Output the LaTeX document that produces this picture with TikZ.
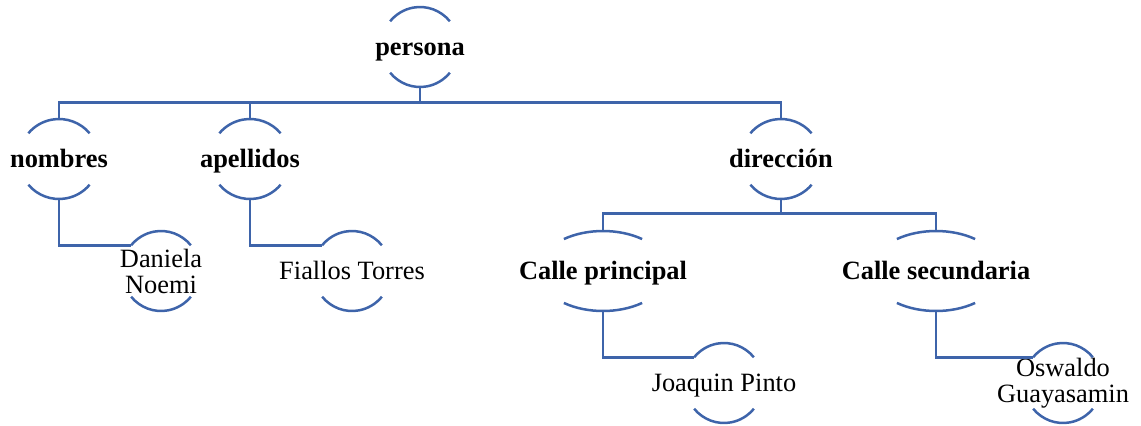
\documentclass[tikz,border=0pt]{standalone}
\usepackage{fontspec}
\setmainfont{Liberation Serif}
\definecolor{archblue}{RGB}{62,100,170}

% top and bottom arc of a node, plus the point where its connector comes in
\newcommand{\archs}[3]{%
  \draw[arcline] ([shift={(#3:#2 and 40)}]#1.center)
    arc[start angle=#3, end angle={180-#3}, x radius=#2, y radius=40];
  \draw[arcline] ([shift={(180+#3:#2 and 40)}]#1.center)
    arc[start angle={180+#3}, end angle={360-#3}, x radius=#2, y radius=40];
  \coordinate (#1-in) at ([shift={(180-#3:#2 and 40)}]#1.center);
}

\begin{document}
\begin{tikzpicture}[x=0.5pt,y=0.5pt,
    font=\fontsize{13.2}{13}\selectfont,
    arcline/.style={draw=archblue, line width=1.25pt},
    link/.style={draw=archblue, line width=1.25pt},
    leaf/.style={inner sep=0pt, minimum height=40pt, text height=2ex, text depth=.25ex},
    head/.style={leaf, font=\fontsize{13.2}{13}\selectfont\bfseries},
    twoline/.style={inner sep=0pt, minimum height=40pt, align=center}]
    \useasboundingbox (0,0) rectangle (1141,425);

    % the texts
    \node[head] (persona) at (420,378) {persona};
    \node[head] (nombres) at (59,266) {nombres};
    \node[head] (apellidos) at (250,266) {apellidos};
    \node[head] (direccion) at (781,266) {dirección};
    \node[head] (principal) at (603,154) {Calle principal};
    \node[head] (secundaria) at (936,154) {Calle secundaria};
    \node[twoline] (daniela) at (161,154) {Daniela\\Noemi};
    \node[leaf] (fiallos) at (352,154) {Fiallos Torres};
    \node[leaf] (joaquin) at (724,42) {Joaquin Pinto};
    \node[twoline] (oswaldo) at (1063,42) {Oswaldo\\Guayasamin};

    % the arcs round them
    \archs{persona}{39}{40}
    \archs{nombres}{40}{40}
    \archs{apellidos}{40}{40}
    \archs{direccion}{40}{40}
    \archs{principal}{65}{53}
    \archs{secundaria}{65}{53}
    \archs{daniela}{39}{40}
    \archs{fiallos}{39}{40}
    \archs{joaquin}{39}{40}
    \archs{oswaldo}{39}{40}

    % connectors
    \draw[link] (persona.south) -- ++(0,-15) coordinate (topbus);
    \draw[link] (topbus) -| (nombres.north);
    \draw[link] (topbus) -| (apellidos.north);
    \draw[link] (topbus) -| (direccion.north);
    \draw[link] (nombres.south) |- (daniela-in);
    \draw[link] (apellidos.south) |- (fiallos-in);
    \draw[link] (direccion.south) -- ++(0,-14) coordinate (lowbus);
    \draw[link] (lowbus) -| (principal.north);
    \draw[link] (lowbus) -| (secundaria.north);
    \draw[link] (principal.south) |- (joaquin-in);
    \draw[link] (secundaria.south) |- (oswaldo-in);
\end{tikzpicture}
\end{document}
